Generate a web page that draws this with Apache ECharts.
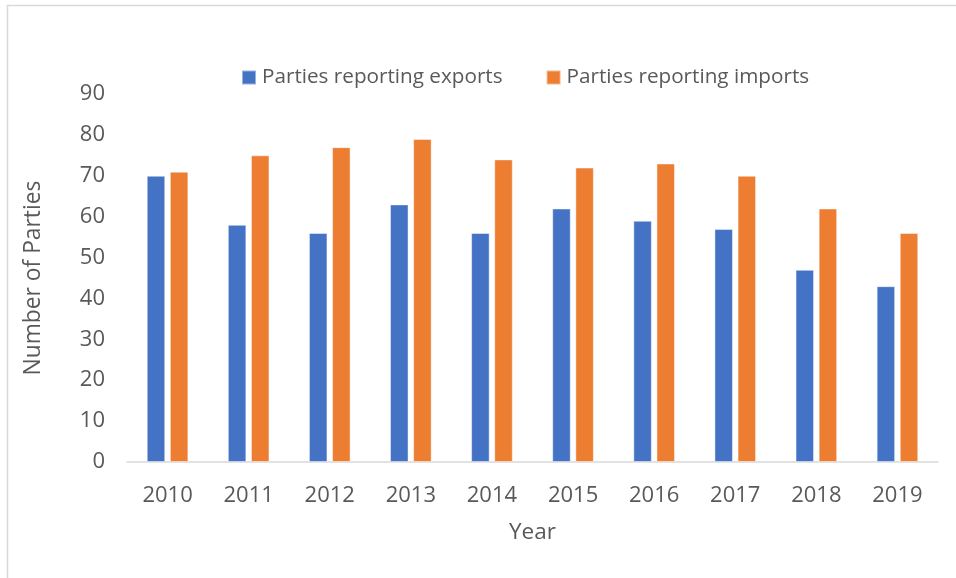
<!DOCTYPE html>
<html>
<head>
<meta charset="utf-8">
<script src="https://cdn.jsdelivr.net/npm/echarts@6/dist/echarts.min.js"></script>
<style>
  html, body { margin: 0; padding: 0; background: #fff; }
  #chart { width: 956px; height: 578px; }
</style>
</head>
<body>
<div id="chart"></div>
<script>
// Parties reporting trade, by year
const years = ['2010', '2011', '2012', '2013', '2014', '2015', '2016', '2017', '2018', '2019'];
const exportsReported = [70, 58, 56, 63, 56, 62, 59, 57, 47, 43];
const importsReported = [71, 75, 77, 79, 74, 72, 73, 70, 62, 56];

const FONT = '"Open Sans", "Noto Sans", sans-serif';
const TEXT = '#595959';

const chart = echarts.init(document.getElementById('chart'), null, { renderer: 'canvas' });

chart.setOption({
  backgroundColor: '#fff',
  animation: false,
  textStyle: { fontFamily: FONT },
  graphic: [{
    type: 'rect',
    shape: { x: 7.5, y: 5.5, width: 1000, height: 700 },
    style: { fill: 'none', stroke: '#d9d9d9', lineWidth: 1.5 },
    silent: true
  }],
  legend: {
    left: 241,
    top: 67,
    padding: 0,
    itemWidth: 14,
    itemHeight: 14,
    itemGap: 43,
    icon: 'rect',
    textStyle: { fontFamily: FONT, fontSize: 20.7, color: TEXT, padding: [0, 0, 0, 1] },
    data: ['Parties reporting exports', 'Parties reporting imports']
  },
  grid: { left: 127, right: 18, top: 94, bottom: 116, containLabel: false },
  xAxis: {
    type: 'category',
    data: years,
    name: 'Year',
    nameLocation: 'middle',
    nameGap: 59,
    nameTextStyle: { fontFamily: FONT, fontSize: 22.5, color: TEXT },
    axisLine: { lineStyle: { color: '#d9d9d9', width: 1.5 } },
    axisTick: { show: false },
    axisLabel: { fontFamily: FONT, fontSize: 22, color: TEXT, margin: 23 }
  },
  yAxis: {
    type: 'value',
    min: 0,
    max: 90,
    interval: 10,
    name: 'Number of Parties',
    nameLocation: 'middle',
    nameGap: 82,
    nameTextStyle: { fontFamily: FONT, fontSize: 22.8, color: TEXT },
    splitLine: { show: false },
    axisLine: { show: false },
    axisTick: { show: false },
    axisLabel: { fontFamily: FONT, fontSize: 22, color: TEXT, margin: 22, padding: [3, 0, 0, 0] }
  },
  series: [
    {
      name: 'Parties reporting exports',
      type: 'bar',
      data: exportsReported,
      barWidth: 18.5,
      barGap: '25%',
      itemStyle: { color: '#4472c4', borderColor: 'rgba(255,255,255,0.45)', borderWidth: 1 }
    },
    {
      name: 'Parties reporting imports',
      type: 'bar',
      data: importsReported,
      barWidth: 18.5,
      barGap: '25%',
      itemStyle: { color: '#ed7d31', borderColor: 'rgba(255,255,255,0.45)', borderWidth: 1 }
    }
  ]
});
</script>
</body>
</html>
